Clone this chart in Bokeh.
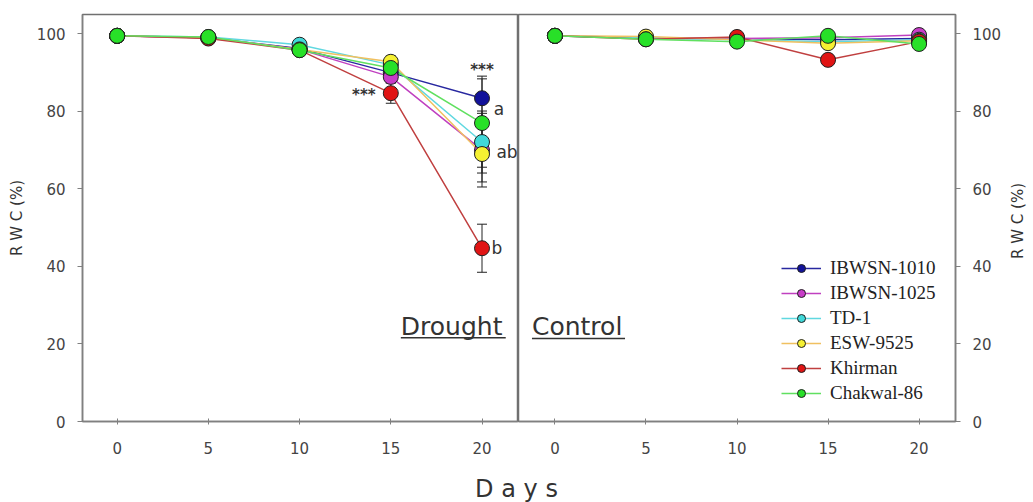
from bokeh.plotting import figure
from bokeh.layouts import row, column
from bokeh.models import (ColumnDataSource, Whisker, TeeHead, Label, FixedTicker,
                          Legend, LegendItem, Div)
from bokeh.embed import file_html
from bokeh.resources import INLINE

days = [0, 5, 10, 15, 20]
cultivars = ["IBWSN-1010", "IBWSN-1025", "TD-1", "ESW-9525", "Khirman", "Chakwal-86"]

drought_1010 = [99.5, 99.0, 96.2, 90.0, 83.4]
drought_1025 = [99.5, 99.0, 96.0, 88.9, 70.0]
drought_td1 = [99.5, 99.2, 97.2, 92.0, 72.1]
drought_esw = [99.5, 99.0, 96.0, 92.8, 69.0]
drought_khirman = [99.5, 98.8, 95.8, 84.7, 44.7]
drought_chakwal = [99.5, 99.2, 95.8, 91.2, 77.0]

err_drought_1010 = [0.3, 0.5, 0.8, 1.5, 5.7]
err_drought_1025 = [0.3, 0.5, 0.8, 1.5, 9.5]
err_drought_td1 = [0.3, 0.5, 0.8, 1.5, 8.0]
err_drought_esw = [0.3, 0.5, 0.8, 1.5, 7.2]
err_drought_khirman = [0.3, 0.5, 0.8, 2.6, 6.2]
err_drought_chakwal = [0.3, 0.5, 0.8, 1.5, 11.4]

control_1010 = [99.5, 98.8, 98.8, 98.5, 98.8]
control_1025 = [99.5, 99.0, 98.8, 99.0, 99.7]
control_td1 = [99.5, 99.0, 98.5, 98.0, 98.5]
control_esw = [99.5, 99.3, 98.5, 97.6, 98.2]
control_khirman = [99.5, 98.6, 99.2, 93.3, 98.0]
control_chakwal = [99.5, 98.6, 98.0, 99.5, 97.4]

err_control = [0.3, 0.4, 0.4, 0.6, 0.5]
err_control_khirman = [0.3, 0.4, 0.4, 1.0, 0.5]

y_ticks = [0, 20, 40, 60, 80, 100]

marker_colors = ["#12129a", "#c83cc8", "#40d8d8", "#f5f032", "#e01414", "#28e028"]
line_colors = ["#2828a0", "#c040c0", "#60d8e0", "#f0c060", "#c04040", "#60e060"]

drought = [drought_1010, drought_1025, drought_td1, drought_esw, drought_khirman, drought_chakwal]
drought_err = [err_drought_1010, err_drought_1025, err_drought_td1, err_drought_esw,
               err_drought_khirman, err_drought_chakwal]
control = [control_1010, control_1025, control_td1, control_esw, control_khirman, control_chakwal]
control_err = [err_control, err_control, err_control, err_control, err_control_khirman, err_control]

FONT = "DejaVu Sans"
TXT = "#333333"
TICK_TXT = "#444444"


def style(p):
    p.xgrid.visible = False
    p.ygrid.visible = False
    p.outline_line_color = "#707070"
    p.outline_line_width = 1.5
    p.background_fill_color = "white"
    p.border_fill_color = "white"
    for ax in p.xaxis + p.yaxis:
        ax.axis_line_color = "#808080"
        ax.axis_line_width = 1.5
        ax.major_tick_line_color = "#808080"
        ax.minor_tick_line_color = None
        ax.major_label_text_font = FONT
        ax.major_label_text_font_size = "15px"
        ax.major_label_text_color = TICK_TXT
        ax.axis_label_text_font = FONT
        ax.axis_label_text_font_style = "normal"
        ax.axis_label_text_color = TXT
    p.xaxis.ticker = FixedTicker(ticks=days)
    p.xaxis.major_tick_in = 3
    p.xaxis.major_tick_out = 3
    p.xaxis.major_label_standoff = 17
    p.yaxis.ticker = FixedTicker(ticks=y_ticks)
    p.yaxis.major_tick_in = 0
    p.yaxis.major_tick_out = 5
    p.yaxis.major_label_standoff = 12


def draw_series(p, data, errs):
    srcs = []
    for vals, e in zip(data, errs):
        src = ColumnDataSource(dict(x=days, y=vals,
                                    upper=[v + d for v, d in zip(vals, e)],
                                    lower=[v - d for v, d in zip(vals, e)]))
        w = Whisker(source=src, base="x", upper="upper", lower="lower",
                    line_color="#222222", line_width=1,
                    upper_head=TeeHead(size=10, line_color="#222222", line_width=1),
                    lower_head=TeeHead(size=10, line_color="#222222", line_width=1))
        p.add_layout(w)
        srcs.append(src)
    lines = [p.line("x", "y", source=src, line_color=lc, line_width=1.5)
             for src, lc in zip(srcs, line_colors)]
    items = []
    for src, mc, ln in zip(srcs, marker_colors, lines):
        sc = p.scatter("x", "y", source=src, size=15, fill_color=mc,
                       line_color="#202020", line_width=1)
        items.append((ln, sc))
    return items


H = 465

# Left (Drought) panel
p1 = figure(width=518, height=H, x_range=(-1.9, 22), y_range=(0, 105),
            output_backend="svg", toolbar_location=None,
            min_border_left=82, min_border_right=0, min_border_top=14, min_border_bottom=H - 421)
style(p1)
p1.yaxis.axis_label = "R W C (%)"
p1.yaxis.axis_label_text_font_size = "15px"
p1.yaxis.axis_label_standoff = 8
draw_series(p1, drought, drought_err)

p1.add_layout(Label(x=20, y=90.6, text="***", text_align="center", text_baseline="middle",
                    text_font=FONT, text_font_size="15px", text_color=TXT, text_font_style="bold"))
p1.add_layout(Label(x=15, y=84.2, x_offset=-27, text="***", text_align="center", text_baseline="middle",
                    text_font=FONT, text_font_size="15px", text_color=TXT, text_font_style="bold"))
for txt, yy, off in [("a", 80.6, 17), ("ab", 69.5, 25), ("b", 44.7, 15)]:
    p1.add_layout(Label(x=20, y=yy, x_offset=off, text=txt, text_align="center",
                        text_baseline="middle", text_font=FONT, text_font_size="17px",
                        text_color=TXT))

p1.add_layout(Label(x=15.55, y=24.6, text="Drought", text_align="left", text_baseline="alphabetic",
                    text_font=FONT, text_font_size="25px", text_color=TXT))
p1.segment(x0=[15.55], x1=[21.3], y0=[21.6], y1=[21.6], line_color=TXT, line_width=1.5)

# Right (Control) panel
p2 = figure(width=487, height=H, x_range=(-2, 22), y_range=(0, 105),
            output_backend="svg", toolbar_location=None, y_axis_location="right",
            min_border_left=0, min_border_right=50, min_border_top=14, min_border_bottom=H - 421)
style(p2)
items = draw_series(p2, control, control_err)

p2.add_layout(Label(x=-1.26, y=24.6, text="Control", text_align="left", text_baseline="alphabetic",
                    text_font=FONT, text_font_size="25px", text_color=TXT))
p2.segment(x0=[-1.26], x1=[3.85], y0=[21.4], y1=[21.4], line_color=TXT, line_width=1.5)

legend = Legend(items=[LegendItem(label=c, renderers=[ln, sc]) for c, (ln, sc) in zip(cultivars, items)],
                location=(263, 17), label_text_font="Liberation Serif",
                label_text_font_size="19px", label_text_color="#222222",
                glyph_width=40, glyph_height=20, label_height=21, spacing=3,
                label_standoff=9, padding=5, margin=0,
                border_line_color=None, background_fill_color="white", background_fill_alpha=1)
p2.add_layout(legend)

right_label = Div(
    text='<div style="position:relative;width:28px;height:442px;display:flex;'
         'align-items:center;justify-content:center;">'
         '<span style="writing-mode:vertical-rl;transform:rotate(180deg);white-space:nowrap;'
         'font-family:\'DejaVu Sans\';font-size:15px;color:#333333;">R W C (%)</span></div>',
    width=28, height=H, margin=(0, 0, 0, 0))

days_div = Div(text='<div style="width:1033px;text-align:center;font-family:\'DejaVu Sans\';'
                    'font-size:24px;color:#333333;line-height:26px;padding-top:11px;">D a y s</div>',
               width=1033, height=502 - H, margin=(0, 0, 0, 0))

layout = column(row(p1, p2, right_label), days_div)

open("out.html", "w").write(file_html(layout, INLINE))
